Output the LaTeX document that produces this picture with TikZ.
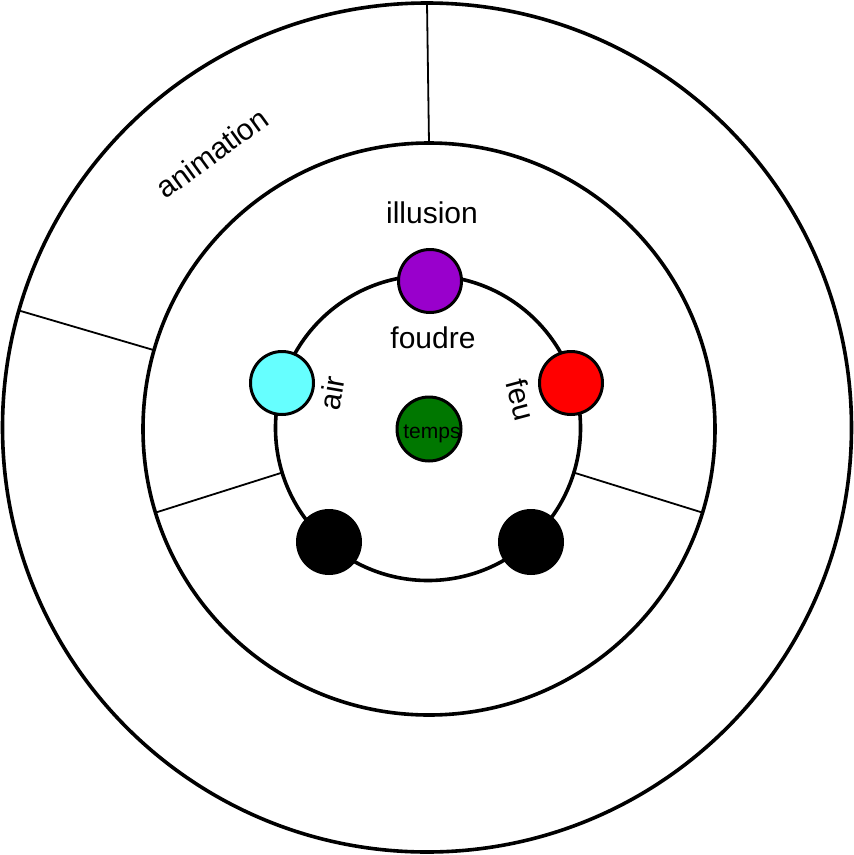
\documentclass[tikz,border=0pt]{standalone}
\usepackage{fontspec}
\setmainfont{Liberation Sans}
\definecolor{ballpurple}{RGB}{153,0,204}
\definecolor{ballcyan}{RGB}{102,255,255}
\definecolor{ballred}{RGB}{255,0,0}
\definecolor{ballgreen}{RGB}{0,119,0}
\begin{document}
\begin{tikzpicture}[x=1pt,y=-1pt,
  ring/.style={circle,draw=black,line width=3.6pt,outer sep=0pt,inner sep=0pt},
  ball/.style={circle,draw=black,line width=3pt,minimum size=63pt,inner sep=0pt},
  sepline/.style={draw=black,line width=1.8pt},
  lbl/.style={font=\fontsize{30}{36}\selectfont,inner sep=0pt},
  small/.style={font=\fontsize{21}{25}\selectfont,inner sep=0pt}]
\useasboundingbox (0,0) rectangle (854,855);
\node[ring,minimum size=849pt] (outer) at (427,427.5) {};
\node[ring,minimum size=572pt] (mid) at (429,429) {};
\node[ring,minimum size=305pt] (inner) at (428,428) {};
% separators
\draw[sepline] (outer.90) -- (mid.90);
\draw[sepline] (outer.164) -- (mid.164);
\draw[sepline] (mid.197) -- (inner.197);
\draw[sepline] (inner.343) -- (mid.343);
% balls
\node[ball,fill=ballpurple] (illusionball) at (430,281) {};
\node[ball,fill=ballcyan] (airball) at (282,383) {};
\node[ball,fill=ballred] (feuball) at (571,383) {};
\node[ball,fill=black] (blackleft) at (329,542) {};
\node[ball,fill=black] (blackright) at (531,542) {};
\node[ball,fill=ballgreen,minimum size=64pt] (tempsball) at (429,429) {};
% labels
\node[lbl,anchor=base] (illusion) at (432,223) {illusion};
\node[lbl,anchor=base] (foudre) at (433,348) {foudre};
\node[lbl,rotate=80] (air) at (332,393) {air};
\node[lbl,rotate=-75] (feu) at (521,400) {feu};
\node[lbl,rotate=36] (animation) at (212,153) {animation};
\node[small,anchor=base] (temps) at (432,438) {temps};
\end{tikzpicture}
\end{document}
